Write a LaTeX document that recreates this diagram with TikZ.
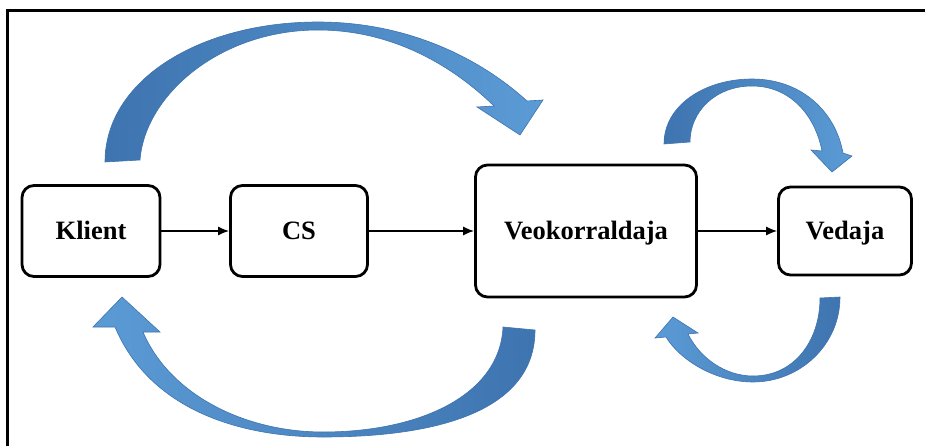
\documentclass[tikz,border=0pt]{standalone}
\usepackage{fontspec}
\setmainfont{Liberation Serif}
\usetikzlibrary{arrows.meta}
\definecolor{bandDark}{RGB}{62,116,176}
\definecolor{bandLight}{RGB}{91,155,213}
\begin{document}
\begin{tikzpicture}[x=1pt,y=-1pt,
  box/.style={draw=black,line width=2.8pt,rounded corners=12pt,fill=white,
    font=\fontsize{26.5}{30}\selectfont\bfseries,inner sep=0pt,
    text height=21pt,text depth=3pt},
  flow/.style={line width=1.4pt,-{Latex[length=11pt,width=9pt]}},
  band/.style={draw=bandDark,line width=0.6pt}]
\useasboundingbox (0,0) rectangle (925,446);
\fill[white] (0,0) rectangle (925,446);
% frame (top and left edges)
\draw[line width=3pt] (7,446) -- (7,11) -- (925,11);

% process boxes
\node[box,minimum width=138pt,minimum height=91pt] (klient) at (91,231) {Klient};
\node[box,minimum width=137pt,minimum height=91pt] (cs) at (299,231) {CS};
\node[box,minimum width=221pt,minimum height=132pt] (veo) at (586,231) {Veokorraldaja};
\node[box,minimum width=133pt,minimum height=88pt] (vedaja) at (845,231) {Vedaja};

% flow connectors
\draw[flow] (klient) -- (cs);
\draw[flow] (cs) -- (veo);
\draw[flow] (veo) -- (vedaja);

% upper large curved arrow (Klient to Veokorraldaja)
\shade[band,left color=bandDark,right color=bandLight]
  (105,162) .. controls (105,80) and (200,22) .. (318,22)
  .. controls (410,22) and (482,60) .. (527,101)
  -- (543,100) -- (520,135) -- (477,107) -- (494,106)
  .. controls (455,68) and (395,30) .. (318,30)
  .. controls (220,30) and (145,95) .. (140,160) -- cycle;

% lower large curved arrow (Veokorraldaja back to Klient)
\shade[band,left color=bandLight,right color=bandDark]
  (115,327) .. controls (150,410) and (240,437) .. (323,437)
  .. controls (440,437) and (535,410) .. (535,330)
  -- (503,327)
  .. controls (500,395) and (420,432) .. (323,432)
  .. controls (245,432) and (170,395) .. (143,332)
  -- (160,332) -- (122,297) -- (93,327) -- cycle;

% upper small curved arrow (Veokorraldaja to Vedaja)
\shade[band,left color=bandDark,right color=bandLight]
  (664,144) .. controls (664,105) and (705,79) .. (752,79)
  .. controls (800,79) and (835,110) .. (843,153)
  -- (852,156) -- (832,172) -- (811,150) -- (822,151)
  .. controls (815,115) and (790,86) .. (752,86)
  .. controls (715,86) and (690,112) .. (690,142) -- cycle;

% lower small curved arrow (Vedaja back to Veokorraldaja)
\shade[band,left color=bandLight,right color=bandDark]
  (840,297) .. controls (840,345) and (800,382) .. (753,382)
  .. controls (715,382) and (680,360) .. (666,337)
  -- (655,338) -- (673,317) -- (698,333) -- (688,334)
  .. controls (700,358) and (725,376) .. (753,376)
  .. controls (795,376) and (820,340) .. (820,298) -- cycle;
\end{tikzpicture}
\end{document}
